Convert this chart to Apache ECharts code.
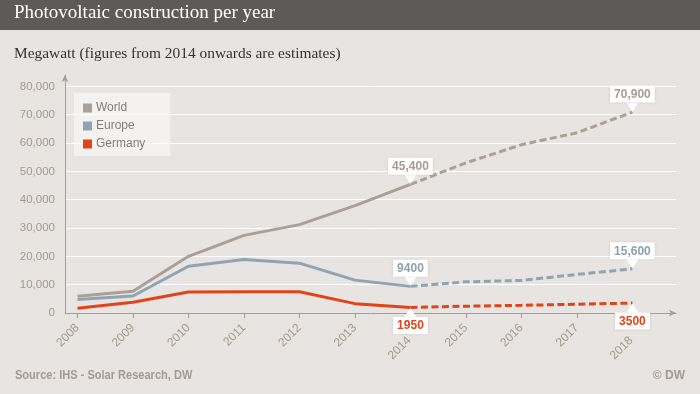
<!DOCTYPE html>
<html>
<head>
<meta charset="utf-8">
<script src="https://cdn.jsdelivr.net/npm/echarts@6/dist/echarts.min.js"></script>
<style>
html,body{margin:0;padding:0;background:#e7e4e1;}
#chart{width:700px;height:394px;}
</style>
</head>
<body>
<div id="chart"></div>
<script>
// ---- data ----
var years = [2008, 2009, 2010, 2011, 2012, 2013, 2014, 2015, 2016, 2017, 2018];
var world = [5900, 7700, 20000, 27400, 31200, 37900, 45400, 53000, 59400, 63600, 70900];
var europe = [4800, 6000, 16500, 18900, 17600, 11600, 9400, 11000, 11500, 13600, 15600];
var germany = [1700, 3800, 7400, 7500, 7500, 3300, 1950, 2400, 2700, 3100, 3500];
var estimateFromYear = 2014;
var calloutYears = [2014, 2018];
var yTickValues = [0, 10000, 20000, 30000, 40000, 50000, 60000, 70000, 80000];
var seriesNames = ['World', 'Europe', 'Germany'];
var titleText = 'Photovoltaic construction per year';
var subtitleText = 'Megawatt (figures from 2014 onwards are estimates)';
var sourceText = 'Source: IHS - Solar Research, DW';
var creditText = '\u00a9 DW';

// ---- styles ----
var colors = { World: '#aaa196', Europe: '#8fa4b3', Germany: '#e2441a' };
var labelColors = { World: '#a69d92', Europe: '#8da1b0', Germany: '#e2431a' };
var calloutBelow = { World: false, Europe: false, Germany: true };
var axisColor = '#a59d93';
var textGray = '#a39b91';
var sans = '"Liberation Sans", Arial, sans-serif';
var serif = '"Liberation Serif", Georgia, serif';

function fmtCallout(v) {
  return v >= 10000 ? v.toLocaleString('en-US') : String(v);
}

var splitIdx = years.indexOf(estimateFromYear);
var downPointer = 'path://M0,0L12,0L6,9Z';
var upPointer = 'path://M6,0L12,9L0,9Z';

function buildSeries(name, values) {
  var pts = years.map(function (y, i) { return [y, values[i]]; });
  var solid = pts.slice(0, splitIdx + 1);
  var dashed = pts.slice(splitIdx);
  var below = calloutBelow[name];
  var mpData = calloutYears.map(function (y) {
    var v = values[years.indexOf(y)];
    return { coord: [y, v], value: v };
  });
  return [
    {
      name: name, type: 'line', data: solid, showSymbol: false, symbol: 'none',
      lineStyle: { color: colors[name], width: 3 },
      itemStyle: { color: colors[name] },
      z: 3
    },
    {
      name: name, type: 'line', data: dashed, showSymbol: false, symbol: 'none',
      lineStyle: { color: colors[name], width: 3, type: [7, 3.5] },
      itemStyle: { color: colors[name] },
      z: 3,
      markPoint: {
        symbol: below ? upPointer : downPointer,
        symbolSize: [12, 9],
        symbolOffset: [0, below ? 5 : -5],
        silent: true,
        itemStyle: { color: '#fff' },
        label: {
          show: true,
          position: below ? 'bottom' : 'top',
          distance: 0,
          formatter: function (p) { return fmtCallout(p.value); },
          color: labelColors[name],
          fontFamily: sans,
          fontWeight: 'bold',
          fontSize: 12,
          backgroundColor: '#fff',
          padding: [3, 4, 2, 4],
          shadowBlur: 3,
          shadowColor: 'rgba(0,0,0,0.12)'
        },
        data: mpData
      }
    }
  ];
}

var series = []
  .concat(buildSeries('World', world))
  .concat(buildSeries('Europe', europe))
  .concat(buildSeries('Germany', germany));

var chart = echarts.init(document.getElementById('chart'), null, { renderer: 'canvas' });
chart.setOption({
  backgroundColor: '#e7e4e1',
  animation: false,
  graphic: [
    { type: 'rect', left: 0, top: 0, shape: { width: 700, height: 30 }, style: { fill: '#5c5b59' }, z: 0 },
    { type: 'text', left: 14, top: 4, style: { text: titleText, fill: '#ffffff', fontFamily: serif, fontSize: 19 }, z: 1 },
    { type: 'text', left: 14, top: 46, style: { text: subtitleText, fill: '#333333', fontFamily: serif, fontSize: 15.4 }, z: 1 },
    { type: 'text', x: 15, y: 370, scaleX: 0.92, style: { text: sourceText, fill: '#a39b91', fontFamily: sans, fontWeight: 'bold', fontSize: 12 }, z: 1 },
    { type: 'text', right: 15, top: 370, style: { text: creditText, fill: '#a39b91', fontFamily: sans, fontWeight: 'bold', fontSize: 12 }, z: 1 }
  ],
  legend: {
    data: seriesNames,
    orient: 'vertical',
    left: 74, top: 93,
    padding: [9, 25, 6, 9],
    backgroundColor: 'rgba(255,255,255,0.5)',
    icon: 'rect',
    itemWidth: 9, itemHeight: 9,
    itemGap: 6,
    itemStyle: { borderWidth: 0 },
    textStyle: { color: '#857d75', fontSize: 12, fontFamily: sans, padding: [0, 0, 0, -1] },
    selectedMode: false
  },
  grid: { left: 65, right: 24, top: 75, bottom: 81, containLabel: false },
  xAxis: {
    type: 'value',
    min: 2007.775,
    max: 2018.785,
    axisLine: { show: true, lineStyle: { color: axisColor, width: 1 }, symbol: ['none', 'arrow'], symbolSize: [5, 7] },
    axisTick: { show: true, customValues: years, length: 5, lineStyle: { color: axisColor } },
    splitLine: { show: false },
    axisLabel: {
      customValues: years,
      rotate: 45,
      margin: 13,
      color: textGray,
      fontSize: 12,
      fontFamily: sans,
      formatter: function (v) {
        return calloutYears.indexOf(v) >= 0 ? '{s|' + v + '}' : '{n|' + v + '}';
      },
      rich: {
        n: { color: textGray, fontSize: 12, fontFamily: sans },
        s: { color: textGray, fontSize: 12, fontFamily: sans, padding: [16, 10, 0, 0] }
      }
    }
  },
  yAxis: {
    type: 'value',
    min: 0,
    max: 84000,
    interval: 10000,
    axisLine: { show: true, lineStyle: { color: axisColor, width: 1 }, symbol: ['none', 'arrow'], symbolSize: [5, 7] },
    axisTick: { show: false },
    axisLabel: {
      margin: 10,
      color: textGray,
      fontSize: 11.5,
      fontFamily: sans,
      formatter: function (v) { return yTickValues.indexOf(v) >= 0 ? v.toLocaleString('en-US') : ''; }
    },
    splitLine: { show: true, showMaxLine: false, lineStyle: { color: '#ffffff', width: 1 } }
  },
  series: series
});
</script>
</body>
</html>
